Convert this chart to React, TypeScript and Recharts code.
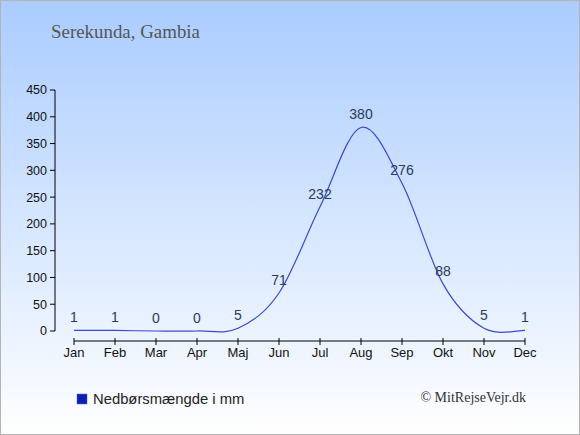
import React from 'react';
import { LineChart, Line, XAxis, YAxis, LabelList, ReferenceLine } from 'recharts';

const months = ['Jan', 'Feb', 'Mar', 'Apr', 'Maj', 'Jun', 'Jul', 'Aug', 'Sep', 'Okt', 'Nov', 'Dec'];
const rainfall = [1, 1, 0, 0, 5, 71, 232, 380, 276, 88, 5, 1];
const yTicks = [0, 50, 100, 150, 200, 250, 300, 350, 400, 450];

const title = 'Serekunda, Gambia';
const legendLabel = 'Nedbørsmængde i mm';
const credit = '© MitRejseVejr.dk';

const chartData = months.map((month, i) => ({ month, value: rainfall[i] }));

// Catmull-Rom style curve (passes through points, may overshoot a little)
function cardinalCurve(context: any) {
  let pts: [number, number][] = [];
  return {
    areaStart() {},
    areaEnd() {},
    lineStart() {
      pts = [];
    },
    lineEnd() {
      if (!pts.length) return;
      context.moveTo(pts[0][0], pts[0][1]);
      const k = 1 / 6;
      for (let i = 0; i < pts.length - 1; i++) {
        const p0 = pts[i - 1] || pts[i];
        const p1 = pts[i];
        const p2 = pts[i + 1];
        const p3 = pts[i + 2] || p2;
        context.bezierCurveTo(
          p1[0] + (p2[0] - p0[0]) * k,
          p1[1] + (p2[1] - p0[1]) * k,
          p2[0] - (p3[0] - p1[0]) * k,
          p2[1] - (p3[1] - p1[1]) * k,
          p2[0],
          p2[1]
        );
      }
    },
    point(x: number, y: number) {
      pts.push([x, y]);
    },
  };
}

function MonthTick(props: any) {
  const { x, y, payload } = props;
  return (
    <g>
      <line x1={x} y1={y + 7} x2={x} y2={y + 14} stroke="#000" />
      <text
        x={x}
        y={y + 26}
        textAnchor="middle"
        fontSize={13}
        fontFamily="'Liberation Sans', Arial, sans-serif"
        fill="#111"
      >
        {payload.value}
      </text>
    </g>
  );
}

export default function App() {
  return (
    <div
      style={{
        position: 'absolute',
        left: 0,
        top: 0,
        width: 580,
        height: 435,
        background: 'linear-gradient(to bottom, #aaccff 0%, #ffffff 100%)',
        boxShadow: 'inset 0 0 0 1px #b4b4b4',
      }}
    >
      <LineChart
        width={580}
        height={435}
        data={chartData}
        margin={{ top: 90, right: 35, bottom: 74, left: 0 }}
      >
        <XAxis
          dataKey="month"
          padding={{ left: 19, right: 20 }}
          axisLine={false}
          tickLine={false}
          tickSize={0}
          tickMargin={0}
          height={30}
          interval={0}
          tick={<MonthTick />}
        />
        <YAxis
          width={55}
          domain={[0, 450]}
          ticks={yTicks}
          interval={0}
          axisLine={{ stroke: '#000' }}
          tickLine={{ stroke: '#000' }}
          tickSize={5}
          tickMargin={3}
          tick={{ fill: '#111', fontSize: 12.5, fontFamily: "'Liberation Sans', Arial, sans-serif" }}
        />
        <ReferenceLine
          segment={[
            { x: 'Jan', y: -18.7 },
            { x: 'Dec', y: -18.7 },
          ]}
          stroke="#000"
          ifOverflow="visible"
        />
        <Line
          type={cardinalCurve as any}
          dataKey="value"
          stroke="#3a4ad0"
          strokeWidth={1.2}
          dot={false}
          activeDot={false}
          isAnimationActive={false}
        >
          <LabelList
            dataKey="value"
            position="top"
            offset={8}
            fill="#2b3a58"
            fontSize={14}
            fontFamily="'Liberation Sans', Arial, sans-serif"
          />
        </Line>
      </LineChart>
      <svg width={580} height={435} style={{ position: 'absolute', left: 0, top: 0, pointerEvents: 'none' }}>
        <text x={51} y={38} fontSize={18.9} fill="#555" fontFamily="'Liberation Serif', 'Times New Roman', serif">
          {title}
        </text>
        <rect x={77} y={394} width={10} height={10} fill="#0b1fb0" stroke="#5566cc" strokeWidth={0.5} />
        <text x={93} y={404} fontSize={14.8} fill="#222" fontFamily="'Liberation Sans', Arial, sans-serif">
          {legendLabel}
        </text>
        <text x={526} y={402} textAnchor="end" fontSize={14} fill="#333" fontFamily="'Liberation Serif', 'Times New Roman', serif">
          {credit}
        </text>
      </svg>
    </div>
  );
}
